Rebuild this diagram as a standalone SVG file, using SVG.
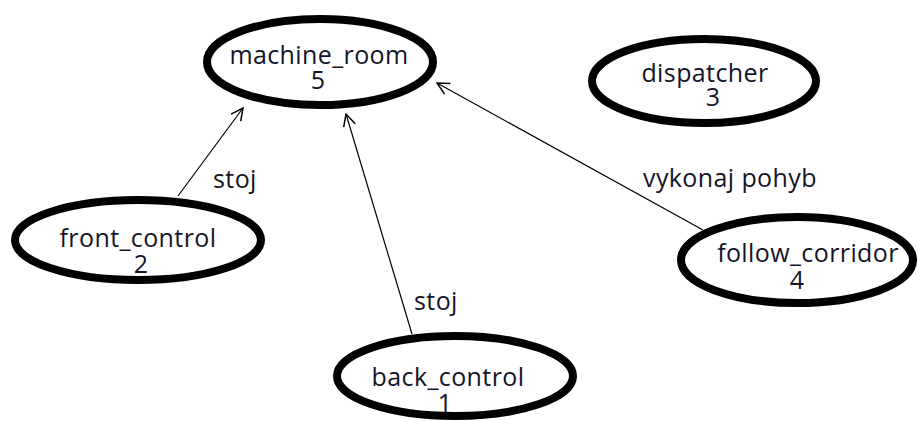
<svg xmlns="http://www.w3.org/2000/svg" width="918" height="421" viewBox="0 0 918 421">
<defs>
<style>
.node ellipse{fill:#fff;stroke:#000;stroke-width:8}
.lbl{font-family:"Open Sans","Liberation Sans",sans-serif;font-size:25px;fill:#141428;text-anchor:middle;letter-spacing:0.4px}
.edge{stroke:#000;stroke-width:1.2;fill:none;marker-end:url(#arr)}
.elbl{font-family:"Open Sans","Liberation Sans",sans-serif;font-size:25px;fill:#141428;letter-spacing:0.4px}
</style>
<marker id="arr" viewBox="0 0 14 14" refX="13" refY="7" markerWidth="14" markerHeight="14" markerUnits="userSpaceOnUse" orient="auto">
<path d="M1,1 L13,7 L1,13" fill="none" stroke="#000" stroke-width="1.5"/>
</marker>
</defs>
<rect width="918" height="421" fill="#fff"/>
<g id="connectors">
<line class="edge" x1="178" y1="196" x2="243" y2="108"/>
<line class="edge" x1="412" y1="334" x2="346" y2="114"/>
<line class="edge" x1="703" y1="230" x2="437" y2="83"/>
<text class="elbl" x="213" y="188">stoj</text>
<text class="elbl" x="414" y="310">stoj</text>
<text class="elbl" x="643" y="187">vykonaj pohyb</text>
</g>
<g id="machine_room" class="node">
<ellipse cx="320" cy="62" rx="113" ry="43"/>
<text class="lbl" x="319" y="64">machine_room</text>
<text class="lbl" x="318" y="89">5</text>
</g>
<g id="dispatcher" class="node">
<ellipse cx="704" cy="81" rx="112" ry="42"/>
<text class="lbl" x="705" y="82">dispatcher</text>
<text class="lbl" x="713" y="106">3</text>
</g>
<g id="front_control" class="node">
<ellipse cx="138" cy="240" rx="123" ry="40"/>
<text class="lbl" x="138" y="247">front_control</text>
<text class="lbl" x="141" y="273">2</text>
</g>
<g id="follow_corridor" class="node">
<ellipse cx="797" cy="260" rx="116" ry="43"/>
<text class="lbl" x="808" y="262">follow_corridor</text>
<text class="lbl" x="797" y="289">4</text>
</g>
<g id="back_control" class="node">
<ellipse cx="455" cy="376" rx="118" ry="40"/>
<text class="lbl" x="448" y="386">back_control</text>
<text class="lbl" x="445" y="412">1</text>
</g>
</svg>
